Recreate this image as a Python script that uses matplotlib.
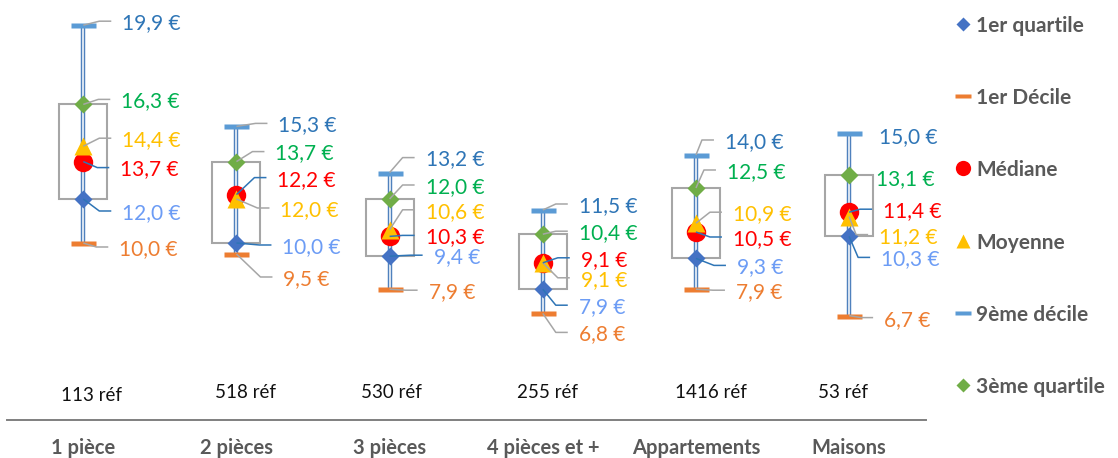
import matplotlib
matplotlib.use("Agg")
import matplotlib.pyplot as plt
from matplotlib.patches import Rectangle

plt.rcParams["font.family"] = ["Lato", "DejaVu Sans"]

# ---- data -------------------------------------------------------------
categories = ["1 pièce", "2 pièces", "3 pièces", "4 pièces et +", "Appartements", "Maisons"]
references = [113, 518, 530, 255, 1416, 53]
decile_1 = [10.0, 9.5, 7.9, 6.8, 7.9, 6.7]
quartile_1 = [12.0, 10.0, 9.4, 7.9, 9.3, 10.3]
mediane = [13.7, 12.2, 10.3, 9.1, 10.5, 11.4]
moyenne = [14.4, 12.0, 10.6, 9.1, 10.9, 11.2]
quartile_3 = [16.3, 13.7, 12.0, 10.4, 12.5, 13.1]
decile_9 = [19.9, 15.3, 13.2, 11.5, 14.0, 15.0]

# ---- layout -----------------------------------------------------------
W, H = 1118, 458
DPI = 100
AX_LEFT_PX, AX_RIGHT_PX = 6.7, 925.7
AX_BOTTOM_PX = 420          # from top
Y_MIN, Y_MAX = 1.9545, 21.045

# label offsets (dx right, dy down) in pixels from each marker
label_offsets = {
    "d9": [(39, -4), (42, -3), (36, -15), (36, -6), (29, -15), (30, 2)],
    "q3": [(38, -5), (39, -10), (36, -14), (36, -3), (31, -18), (27, 2)],
    "moy": [(39, -8), (44, 9), (36, -20), (38, 15), (37, -11), (30, 18)],
    "med": [(37, 6), (41, -17), (36, -1), (38, -5), (37, 5), (34, -3)],
    "q1": [(39, 12), (46, 2), (44, -1), (36, 16), (41, 7), (32, 21)],
    "d1": [(36, 4), (47, 23), (39, 1), (36, 19), (40, 1), (35, 2)],
}
ref_offsets = [(8, 3), (9, 0), (2, 0), (5, 0), (15, 0), (-6, 0)]

# ---- styles -----------------------------------------------------------
C_Q1, C_D1, C_MED, C_MOY, C_D9, C_Q3 = "#4472C4", "#ED7D31", "#FF0000", "#FFC000", "#5B9BD5", "#70AD47"
LBL = {"d9": "#2E75B6", "q3": "#00B050", "moy": "#FFC000", "med": "#FF0000",
       "q1": "#6C9CF5", "d1": "#ED7D31"}
LEADER = {"d9": "#A6A6A6", "q3": "#A6A6A6", "moy": "#A6A6A6", "med": "#2E75B6",
          "q1": "#2E75B6", "d1": "#A6A6A6"}
DASH = [(-1, -0.2), (1, -0.2), (1, 0.2), (-1, 0.2), (-1, -0.2)]
GREY_TXT = "#595959"

fig = plt.figure(figsize=(W / DPI, H / DPI), dpi=DPI)
ax = fig.add_axes([AX_LEFT_PX / W, (H - AX_BOTTOM_PX) / H,
                   (AX_RIGHT_PX - AX_LEFT_PX) / W, AX_BOTTOM_PX / H])
ax.set_xlim(-0.5, len(categories) - 0.5)
ax.set_ylim(Y_MIN, Y_MAX)
for s in ["top", "left", "right"]:
    ax.spines[s].set_visible(False)
ax.spines["bottom"].set_color("#7F7F7F")
ax.spines["bottom"].set_linewidth(1.4)
ax.set_xticks([])
ax.set_yticks([])
ax.patch.set_alpha(0)

# pixel -> data conversion factors
px_x = (len(categories)) / (AX_RIGHT_PX - AX_LEFT_PX)
px_y = (Y_MAX - Y_MIN) / AX_BOTTOM_PX

x = list(range(len(categories)))
half_box = 24 * px_x

# boxes between quartiles
for i in x:
    ax.add_patch(Rectangle((i - half_box, quartile_1[i]), 2 * half_box,
                           quartile_3[i] - quartile_1[i], fill=False,
                           edgecolor="#A6A6A6", lw=1.5, zorder=1))

# whiskers from 1st to 9th decile (double line)
ax.vlines(x, decile_1, decile_9, color="#4F81BD", lw=3.2, zorder=2)
ax.vlines(x, decile_1, decile_9, color="white", lw=1.1, zorder=2.1)

ax.plot(x, decile_1, ls="none", marker=DASH, ms=18, color=C_D1, mec="none", zorder=3)
ax.plot(x, decile_9, ls="none", marker=DASH, ms=18, color=C_D9, mec="none", zorder=3)
ax.plot(x, quartile_1, ls="none", marker="D", ms=9.5, color=C_Q1, mec="none", zorder=3)
ax.plot(x, quartile_3, ls="none", marker="D", ms=9.5, color=C_Q3, mec="none", zorder=3)
ax.plot(x, mediane, ls="none", marker="o", ms=14, color=C_MED, mec="none", zorder=4)
ax.plot(x, moyenne, ls="none", marker="^", ms=13, color=C_MOY, mec="none", zorder=5)

series = {"d9": decile_9, "q3": quartile_3, "moy": moyenne,
          "med": mediane, "q1": quartile_1, "d1": decile_1}


def euro(v):
    return f"{v:.1f} €".replace(".", ",")


for key, values in series.items():
    for i, v in enumerate(values):
        dx, dy = label_offsets[key][i]
        lx = i + dx * px_x
        ly = v - dy * px_y
        ax.text(lx, ly, euro(v), color=LBL[key], fontsize=15,
                ha="left", va="center_baseline", zorder=7)
        if dx >= 33 or abs(dy) > 4:
            end_x = lx - 11 * px_x
            elbow_x = lx - 23 * px_x
            ax.plot([i, elbow_x, end_x], [v, ly, ly], color=LEADER[key],
                    lw=1.1, zorder=6, solid_capstyle="butt")

# reference counts above the axis, category names below
for i, n in enumerate(references):
    ox, oy = ref_offsets[i]
    ax.annotate(f"{n} réf", xy=(i, Y_MIN), xytext=(ox, 29 - oy),
                textcoords="offset pixels", ha="center", va="center_baseline",
                fontsize=13.5, color="#111111", annotation_clip=False)
    ax.annotate(categories[i], xy=(i, Y_MIN), xytext=(0, -26),
                textcoords="offset pixels", ha="center", va="center_baseline",
                fontsize=14.5, fontweight="bold", color=GREY_TXT,
                annotation_clip=False)

# legend drawn in a pixel-space overlay
lg = fig.add_axes([0, 0, 1, 1])
lg.set_xlim(0, W)
lg.set_ylim(H, 0)
lg.axis("off")
legend_items = [
    ("1er quartile", "D", C_Q1, 7),
    ("1er Décile", DASH, C_D1, 11),
    ("Médiane", "o", C_MED, 11),
    ("Moyenne", "^", C_MOY, 10),
    ("9ème décile", DASH, C_D9, 11),
    ("3ème quartile", "D", C_Q3, 7),
]
for k, (name, mk, col, ms) in enumerate(legend_items):
    yy = 24 + k * 72.2
    lg.plot([963], [yy], ls="none", marker=mk, ms=ms, color=col, mec="none")
    lg.text(976, yy, name, ha="left", va="center_baseline", fontsize=15,
            fontweight="bold", color=GREY_TXT)

fig.savefig("out.png", dpi=DPI)
